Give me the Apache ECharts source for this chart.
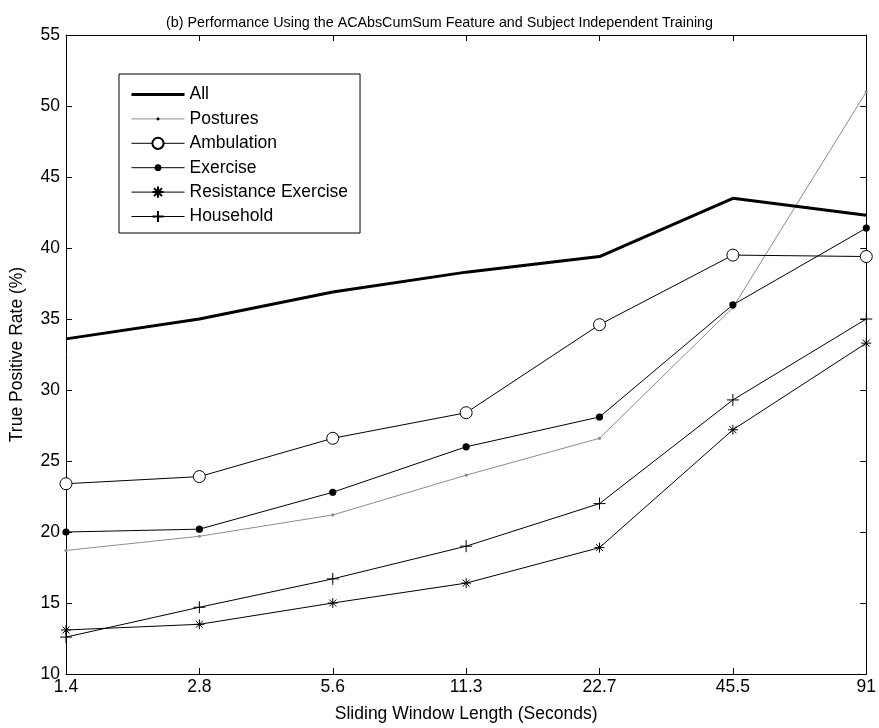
<!DOCTYPE html>
<html>
<head>
<meta charset="utf-8">
<script src="https://cdn.jsdelivr.net/npm/echarts@6/dist/echarts.min.js"></script>
<style>
  html, body { margin: 0; padding: 0; background: #fff; }
  #chart { width: 879px; height: 728px; }
</style>
</head>
<body>
<div id="chart"></div>
<script>
// Window lengths (seconds) on the x axis
const windowLengths = ['1.4', '2.8', '5.6', '11.3', '22.7', '45.5', '91'];

// True positive rate (%) per activity group
const allActivities = [33.6, 35.0, 36.9, 38.3, 39.4, 43.5, 42.3];
const postures      = [18.7, 19.7, 21.2, 24.0, 26.6, 35.8, 51.0];
const ambulation    = [23.4, 23.9, 26.6, 28.4, 34.6, 39.5, 39.4];
const exercise      = [20.0, 20.2, 22.8, 26.0, 28.1, 36.0, 41.4];
const resistance    = [13.1, 13.5, 15.0, 16.4, 18.9, 27.2, 33.3];
const household     = [12.6, 14.7, 16.7, 19.0, 22.0, 29.3, 35.0];

const yTicks = { min: 10, max: 55, step: 5 };

const FONT = 'Liberation Sans, Arial, Helvetica, sans-serif';
const LABEL_SIZE = 17.5;

// Marker shapes. The leading moves pin every shape to a 12x12 box so the
// visible part keeps its own size both on the plot and in the legend.
const BOX = 'M0,0M12,12';
const dotSmall = 'path://' + BOX + 'M7.6,6A1.6,1.6,0,1,1,4.4,6A1.6,1.6,0,1,1,7.6,6Z';
const dotMid   = 'path://' + BOX + 'M9.6,6A3.6,3.6,0,1,1,2.4,6A3.6,3.6,0,1,1,9.6,6Z';
const asteriskPath = 'path://M0,5L10,5M5,0L5,10M1.5,1.5L8.5,8.5M8.5,1.5L1.5,8.5';
const plusPath = 'path://M0,5L10,5M5,0L5,10';

const chart = echarts.init(document.getElementById('chart'), null, { renderer: 'canvas' });

function lineSeries(name, data, opts) {
  return Object.assign({
    name: name,
    type: 'line',
    data: data,
    xAxisIndex: 0,
    yAxisIndex: 0,
    animation: false,
    lineStyle: { color: '#000', width: 1 },
    itemStyle: { color: '#000' },
    emphasis: { disabled: true }
  }, opts);
}

const tickStyle = { show: true, inside: true, length: 6, lineStyle: { color: '#000', width: 1 } };
const lineStyleAxis = { show: true, lineStyle: { color: '#000', width: 1 } };
const labelText = { fontFamily: FONT, fontSize: LABEL_SIZE, color: '#000' };

chart.setOption({
  backgroundColor: '#fff',
  animation: false,
  title: {
    text: '(b) Performance Using the ACAbsCumSum Feature and Subject Independent Training',
    left: 'center',
    top: 11,
    textStyle: { fontFamily: FONT, fontSize: 14.3, fontWeight: 'normal', color: '#000' }
  },
  grid: { left: 62, right: 8, top: 35, bottom: 52, containLabel: false },
  legend: {
    orient: 'vertical',
    left: 119,
    top: 74,
    padding: [11.5, 12, 7.5, 11],
    itemWidth: 53,
    itemHeight: 14,
    itemGap: 6.4,
    borderColor: '#000',
    borderWidth: 1,
    backgroundColor: '#fff',
    lineStyle: { width: 1 },
    textStyle: labelText,
    data: [
      { name: 'All', itemStyle: { opacity: 0 }, lineStyle: { width: 3 } },
      { name: 'Postures', itemStyle: { color: '#000', borderColor: '#000' } },
      'Ambulation',
      'Exercise',
      'Resistance Exercise',
      'Household'
    ]
  },
  xAxis: [
    {
      type: 'category',
      data: windowLengths,
      boundaryGap: false,
      position: 'bottom',
      axisLine: lineStyleAxis,
      axisTick: Object.assign({ alignWithLabel: true }, tickStyle),
      splitLine: { show: false },
      axisLabel: Object.assign({ margin: 4 }, labelText),
      name: 'Sliding Window Length (Seconds)',
      nameLocation: 'middle',
      nameGap: 31,
      nameTextStyle: labelText
    },
    {
      type: 'category',
      data: windowLengths,
      boundaryGap: false,
      position: 'top',
      axisLine: lineStyleAxis,
      axisTick: Object.assign({ alignWithLabel: true }, tickStyle),
      splitLine: { show: false },
      axisLabel: { show: false }
    }
  ],
  yAxis: [
    {
      type: 'value',
      min: yTicks.min,
      max: yTicks.max,
      interval: yTicks.step,
      position: 'left',
      axisLine: lineStyleAxis,
      axisTick: tickStyle,
      splitLine: { show: false },
      axisLabel: Object.assign({ margin: 6 }, labelText),
      name: 'True Positive Rate (%)',
      nameLocation: 'middle',
      nameGap: 40,
      nameTextStyle: labelText
    },
    {
      type: 'value',
      min: yTicks.min,
      max: yTicks.max,
      interval: yTicks.step,
      position: 'right',
      axisLine: lineStyleAxis,
      axisTick: tickStyle,
      splitLine: { show: false },
      axisLabel: { show: false }
    }
  ],
  series: [
    lineSeries('All', allActivities, {
      symbol: 'none',
      lineStyle: { color: '#000', width: 3 },
      z: 5
    }),
    lineSeries('Postures', postures, {
      symbol: dotSmall,
      symbolSize: 12,
      lineStyle: { color: '#8c8c8c', width: 1 },
      itemStyle: { color: '#8c8c8c' }
    }),
    lineSeries('Ambulation', ambulation, {
      symbol: 'circle',
      symbolSize: 12,
      itemStyle: { color: '#fff', borderColor: '#000', borderWidth: 1 }
    }),
    lineSeries('Exercise', exercise, {
      symbol: dotMid,
      symbolSize: 12,
      itemStyle: { color: '#000' }
    }),
    lineSeries('Resistance Exercise', resistance, {
      symbol: asteriskPath,
      symbolSize: 10,
      itemStyle: { color: 'rgba(0,0,0,0)', borderColor: '#000', borderWidth: 1 }
    }),
    lineSeries('Household', household, {
      symbol: plusPath,
      symbolSize: 12,
      itemStyle: { color: 'rgba(0,0,0,0)', borderColor: '#000', borderWidth: 1 }
    })
  ]
});
</script>
</body>
</html>
